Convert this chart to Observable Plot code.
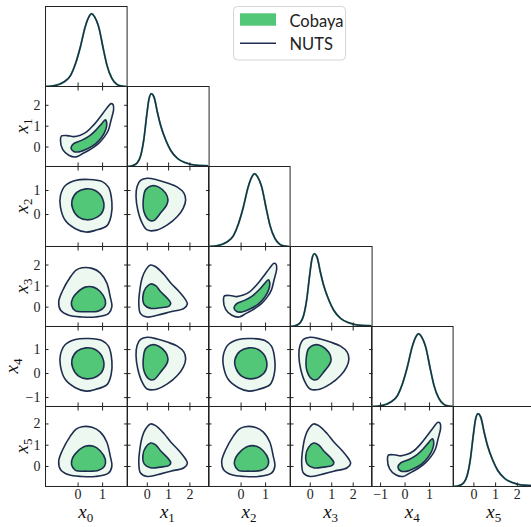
<!DOCTYPE html>
<html>
<head>
<meta charset="utf-8">
<script src="https://cdn.jsdelivr.net/npm/d3@7"></script>
<script src="https://cdn.jsdelivr.net/npm/@observablehq/plot@0.6"></script>
<style>
html, body { margin: 0; padding: 0; background: #fff; overflow: hidden; }
#fig { position: relative; width: 531px; height: 527px; overflow: hidden; background: #fff; }
#overlay { position: absolute; left: 0; top: 0; pointer-events: none; }
</style>
</head>
<body>
<div id="fig"></div>
<script>
// ---------------- data ----------------
const variables = ["x0", "x1", "x2", "x3", "x4", "x5"];
const kinds = ["G", "S", "G", "S", "G", "S"];   // G: symmetric marginal, S: skewed marginal
const limits = {
  x0: [-1.33, 2.0], x1: [-0.93, 2.9], x2: [-1.33, 2.0],
  x3: [-0.92, 2.88], x4: [-1.37, 1.96], x5: [-0.94, 2.82]
};
const tickVals = {
  x0: [0, 1], x1: [0, 1, 2], x2: [0, 1], x3: [0, 1, 2], x4: [-1, 0, 1], x5: [0, 1, 2]
};

// 1D marginals (normalised density)
const symX = [-1.33, -0.99, -0.59, -0.31, -0.11, 0.09, 0.29, 0.43, 0.55, 0.67, 0.84, 1.04, 1.18, 1.38, 1.58, 1.80, 1.95];
const symD = [0, 0.01, 0.06, 0.15, 0.31, 0.54, 0.82, 0.95, 1.0, 0.96, 0.82, 0.50, 0.29, 0.11, 0.03, 0.005, 0];
const skewX = [-0.93, -0.70, -0.47, -0.31, -0.16, -0.03, 0.08, 0.19, 0.32, 0.47, 0.63, 0.87, 1.10, 1.42, 1.81, 2.20, 2.83];
const skewD = [0, 0.01, 0.05, 0.15, 0.38, 0.70, 0.93, 1.0, 0.95, 0.75, 0.56, 0.36, 0.22, 0.11, 0.05, 0.02, 0.01];

// 2D contours (68% inner, 95% outer), [x, y] in data units
const bananaOuter = [[-0.72,0.34],[-0.68,0.53],[-0.45,0.55],[-0.18,0.50],[0.09,0.57],[0.36,0.74],[0.63,1.05],[0.90,1.44],[1.17,1.86],[1.34,2.08],[1.43,2.03],[1.45,1.79],[1.35,1.31],[1.24,0.82],[1.08,0.50],[0.84,0.18],[0.57,-0.06],[0.19,-0.31],[-0.08,-0.47],[-0.38,-0.39],[-0.63,-0.11]];
const bananaInner = [[1.11,1.30],[1.17,1.15],[1.13,0.84],[0.97,0.48],[0.70,0.14],[0.38,-0.08],[0.04,-0.23],[-0.18,-0.21],[-0.29,-0.03],[-0.18,0.17],[0.14,0.32],[0.48,0.55],[0.75,0.84],[0.96,1.12]];
const roundOuter = [[-0.72,0.79],[-0.52,1.21],[-0.11,1.42],[0.43,1.46],[0.97,1.38],[1.24,1.14],[1.38,0.51],[1.35,-0.04],[1.18,-0.46],[0.70,-0.66],[0.32,-0.73],[-0.11,-0.59],[-0.52,-0.25],[-0.72,0.31]];
const roundInner = [[-0.25,0.58],[-0.04,0.93],[0.32,1.07],[0.70,1.0],[1.0,0.66],[1.02,0.17],[0.78,-0.11],[0.36,-0.22],[0.02,-0.11],[-0.22,0.24]];
const skewSymOuter = [[-0.53,0.75],[-0.48,1.17],[-0.32,1.42],[-0.01,1.51],[0.47,1.44],[0.94,1.31],[1.41,1.14],[1.72,0.89],[1.80,0.61],[1.69,0.27],[1.41,-0.08],[0.94,-0.43],[0.39,-0.66],[-0.01,-0.64],[-0.24,-0.36],[-0.45,0.20]];
const skewSymInner = [[-0.19,0.61],[-0.08,1.03],[0.23,1.20],[0.54,1.14],[0.86,0.89],[0.97,0.61],[0.91,0.40],[0.62,0.06],[0.31,-0.25],[0.07,-0.22],[-0.16,0.13]];
const symSkewOuter = [[0.16,1.87],[0.57,1.84],[0.90,1.63],[1.17,1.15],[1.31,0.50],[1.38,0.02],[1.24,-0.31],[0.70,-0.47],[0.16,-0.47],[-0.38,-0.39],[-0.72,-0.14],[-0.79,0.26],[-0.65,0.74],[-0.31,1.44],[-0.08,1.76]];
const symSkewInner = [[-0.04,0.69],[0.29,0.95],[0.63,0.95],[0.90,0.74],[1.11,0.34],[1.08,0.02],[0.84,-0.18],[0.29,-0.22],[-0.11,-0.18],[-0.27,0.10],[-0.22,0.42]];
const skewSkewOuter = [[0.15,2.00],[0.39,1.92],[0.78,1.55],[1.10,1.15],[1.49,0.74],[1.80,0.34],[1.88,0.15],[1.72,-0.06],[1.10,-0.22],[0.47,-0.39],[-0.01,-0.47],[-0.32,-0.31],[-0.40,0.18],[-0.35,0.82],[-0.24,1.39],[-0.08,1.76]];
const skewSkewInner = [[0.15,1.10],[0.39,1.02],[0.62,0.74],[0.94,0.42],[1.10,0.18],[1.02,0.05],[0.62,-0.03],[0.15,-0.06],[-0.13,0.10],[-0.21,0.50],[-0.08,0.90]];

const legendLabels = ["Cobaya", "NUTS"];

// ---------------- styling ----------------
const navy = "#1f2d4e", green = "#52c777", pale = "#edf8f0", frameCol = "#222";
const PW = 81.6, PH = 80, X0 = 45, Y0 = 6;
const tickFont = "'Liberation Serif', 'DejaVu Serif', serif";
const fmt = d => (d < 0 ? "\u2212" : "") + Math.abs(d);
const blank = () => "";
const fig = document.getElementById("fig");

const toPts = arr => arr.map(([x, y]) => ({x, y}));
function shapeFor(i, j) {
  const kx = kinds[j], ky = kinds[i];
  if (i === j + 1 && kx === "G") return [bananaOuter, bananaInner];
  if (kx === "G" && ky === "G") return [roundOuter, roundInner];
  if (kx === "S" && ky === "G") return [skewSymOuter, skewSymInner];
  if (kx === "G" && ky === "S") return [symSkewOuter, symSkewInner];
  return [skewSkewOuter, skewSkewInner];
}

function xTickMarks(v, bottomRow, top) {
  const t = tickVals[v];
  const m = [Plot.axisX({anchor: "bottom", ticks: t, tickSize: 3.5, dy: -3.5, tickFormat: blank, label: null, stroke: frameCol})];
  if (top) m.push(Plot.axisX({anchor: "top", ticks: t, tickSize: 3.5, dy: 3.5, tickFormat: blank, label: null, stroke: frameCol}));
  if (bottomRow) m.push(Plot.axisX({anchor: "bottom", ticks: t, tickSize: 0, tickPadding: 3, tickFormat: fmt, label: null, fontSize: 14, fontFamily: tickFont, fill: "#222"}));
  return m;
}
function yTickMarks(v, leftCol) {
  const t = tickVals[v];
  const m = [
    Plot.axisY({anchor: "left", ticks: t, tickSize: 3.5, dx: 3.5, tickFormat: blank, label: null, stroke: frameCol}),
    Plot.axisY({anchor: "right", ticks: t, tickSize: 3.5, dx: -3.5, tickFormat: blank, label: null, stroke: frameCol})
  ];
  if (leftCol) m.push(Plot.axisY({anchor: "left", ticks: t, tickSize: 0, tickPadding: 5, tickFormat: fmt, label: null, fontSize: 14, fontFamily: tickFont, fill: "#222"}));
  return m;
}

function place(svg, i, j) {
  svg.style.position = "absolute";
  svg.style.left = (X0 + j * PW) + "px";
  svg.style.top = (Y0 + i * PH) + "px";
  fig.appendChild(svg);
}

for (let i = 0; i < 6; i++) {
  for (let j = 0; j <= i; j++) {
    const vx = variables[j], vy = variables[i];
    let svg;
    if (i === j) {
      const xs = kinds[i] === "G" ? symX : skewX;
      const ds = kinds[i] === "G" ? symD : skewD;
      const pts = xs.map((x, k) => ({x, y: ds[k]}));
      svg = Plot.plot({
        width: PW, height: PH, margin: 0,
        x: {domain: limits[vx]}, y: {domain: [0, 1.1], axis: null},
        style: {overflow: "visible", background: "transparent"},
        marks: [
          Plot.line(pts, {x: "x", y: "y", curve: "monotone-x", stroke: green, strokeWidth: 1.9, clip: true}),
          Plot.line(pts, {x: "x", y: "y", curve: "monotone-x", stroke: navy, strokeWidth: 1.6, clip: true}),
          Plot.frame({stroke: frameCol, strokeWidth: 1}),
          ...xTickMarks(vx, i === 5, false)
        ]
      });
    } else {
      const [outer, inner] = shapeFor(i, j);
      const o = toPts(outer), n = toPts(inner);
      const c = "catmull-rom-closed";
      svg = Plot.plot({
        width: PW, height: PH, margin: 0,
        x: {domain: limits[vx]}, y: {domain: limits[vy]},
        style: {overflow: "visible", background: "transparent"},
        marks: [
          Plot.line(o, {x: "x", y: "y", curve: c, fill: pale, stroke: "none"}),
          Plot.line(n, {x: "x", y: "y", curve: c, fill: green, stroke: "none"}),
          Plot.line(o, {x: "x", y: "y", curve: c, fill: "none", stroke: navy, strokeWidth: 1.6}),
          Plot.line(n, {x: "x", y: "y", curve: c, fill: "none", stroke: navy, strokeWidth: 1.6}),
          Plot.frame({stroke: frameCol, strokeWidth: 1}),
          ...xTickMarks(vx, i === 5, true),
          ...yTickMarks(vy, j === 0)
        ]
      });
    }
    place(svg, i, j);
  }
}

// ---------------- overlay: axis labels and legend ----------------
const ov = d3.select(fig).append("svg").attr("id", "overlay").attr("width", 531).attr("height", 527);
const labelFont = "'Liberation Serif', 'DejaVu Serif', serif";
function mathLabel(g, name) {
  const t = g.append("text").attr("font-family", labelFont).attr("fill", "#111").attr("text-anchor", "middle");
  t.append("tspan").attr("font-style", "italic").attr("font-size", 19).text(name[0]);
  t.append("tspan").attr("font-size", 13).attr("dy", 3.5).text(name.slice(1));
  return t;
}
variables.forEach((v, j) => {
  const g = ov.append("g").attr("transform", `translate(${X0 + j * PW + PW / 2},518)`);
  mathLabel(g, v);
});
variables.forEach((v, i) => {
  if (i === 0) return;
  const bx = v === "x4" ? 18 : 28;
  const g = ov.append("g").attr("transform", `translate(${bx},${Y0 + i * PH + PH / 2}) rotate(-90)`);
  mathLabel(g, v);
});

const lg = ov.append("g");
lg.append("rect").attr("x", 233.5).attr("y", 6.5).attr("width", 112).attr("height", 53.5)
  .attr("rx", 4).attr("fill", "white").attr("fill-opacity", 0.85).attr("stroke", "#d6d6d6");
lg.append("rect").attr("x", 240).attr("y", 13.3).attr("width", 36).attr("height", 12.4).attr("fill", green);
lg.append("line").attr("x1", 240).attr("x2", 276).attr("y1", 43.3).attr("y2", 43.3).attr("stroke", navy).attr("stroke-width", 1.6);
lg.append("text").attr("x", 289.5).attr("y", 26.6).attr("font-family", "Lato, 'Open Sans', sans-serif").attr("font-size", 16.5).attr("fill", "#222").text(legendLabels[0]);
lg.append("text").attr("x", 289.5).attr("y", 49.8).attr("font-family", "Lato, 'Open Sans', sans-serif").attr("font-size", 16.5).attr("fill", "#222").text(legendLabels[1]);
</script>
</body>
</html>
